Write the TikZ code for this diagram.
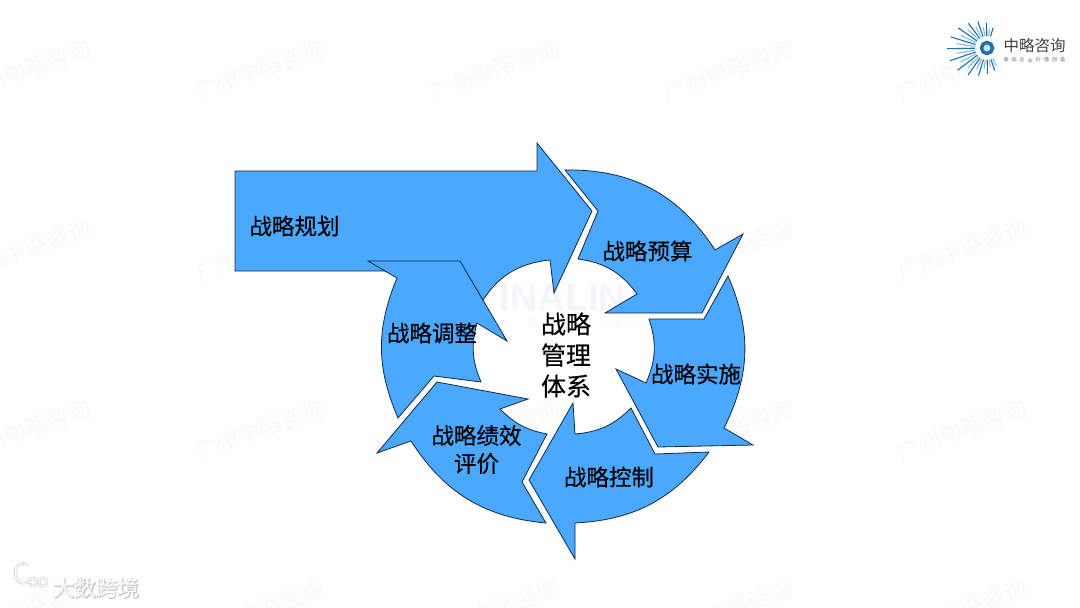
\documentclass[tikz,border=0pt]{standalone}
\usepackage{fontspec}
\newfontfamily\cjk[FakeBold=0.35]{Noto Sans CJK SC}
\newfontfamily\plaincjk{Noto Sans CJK SC}
\newfontfamily\halofont[FakeBold=4]{Noto Sans CJK SC}
\newfontfamily\latinfont{Liberation Sans}
\definecolor{arrowblue}{HTML}{4AA8FF}
\definecolor{arrowline}{HTML}{0E2A47}
\definecolor{markgrey}{HTML}{F8F9FB}
\definecolor{brandgrey}{HTML}{F3F5F8}
\definecolor{raydark}{HTML}{1F6FB0}
\definecolor{raylight}{HTML}{7CC0E8}
\begin{document}
\begin{tikzpicture}[x=1pt,y=-1pt,
    wedge/.style={draw=arrowline,fill=arrowblue,line width=0.8pt,miter limit=20},
    lbl/.style={font=\cjk\fontsize{22.5}{31}\selectfont,inner sep=0pt,align=center},
    wmark/.style={font=\plaincjk\fontsize{22.5}{24}\selectfont,text=markgrey,rotate=20,inner sep=0pt},
    ray/.style={line width=1.1pt},
    badge/.style={draw=black!30,double=white,double distance=1.4pt,line width=0.4pt}]
  \useasboundingbox (0,0) rectangle (1080,608);
  % watermarks
  \begin{scope}
    \clip (0,0) rectangle (1080,608);
    \foreach \col in {26,260,494,728,962}
      \foreach \row in {70,250,430,610}
        \node[wmark] (m\col-\row) at (\col,\row) {广州中略咨询};
  \end{scope}
  \node[font=\latinfont\bfseries\fontsize{38}{38}\selectfont,text=brandgrey,inner sep=0pt] (brand) at (563,297) {INALIN};
  \node[font=\plaincjk\fontsize{10}{10}\selectfont,text=markgrey,inner sep=0pt] (brandl) at (533,323) {驱};
  \node[font=\plaincjk\fontsize{10}{10}\selectfont,text=markgrey,inner sep=0pt] (brandr) at (618,323) {价\,值\,创};

  % plan arrow, lies under the others
  \draw[wedge] (235,171) -- (537,171) -- (537,143) -- (592,211) -- (554,293) -- (550,260)
    to[bend right=27] (480,305) -- (440,271) -- (235,271) -- cycle;
  % budget
  \draw[wedge] (565,170) to[bend left=29] (715,250) -- (743,234) -- (702,313) -- (605,313)
    -- (637,294) to[bend right=23] (578,259) -- (598,211) -- cycle;
  % implementation
  \draw[wedge] (728,276) to[bend left=25] (724,428) -- (753,445) -- (658,447) -- (616,369)
    -- (646,383) to[bend right=21] (649,319) -- (704,319) -- cycle;
  % control
  \draw[wedge] (709,452) to[bend left=25] (575,523) -- (575,559) -- (529,480) -- (573,403)
    -- (575,434) to[bend right=20] (631,408) -- (655,454) -- cycle;
  % evaluation
  \draw[wedge] (546,523) to[bend left=26] (411,441) -- (377,453) -- (437,382) -- (528,399)
    -- (500,409) to[bend right=17] (547,434) -- (522,482) -- cycle;
  % adjustment
  \draw[wedge] (398,418) to[bend left=23] (397,278) -- (368,261) -- (460,261) -- (507,341)
    -- (477,323) to[bend right=19] (481,382) -- (434,376) -- cycle;

  \node[lbl] (plan) at (294.5,226) {战略规划};
  \node[lbl] (budget) at (647.5,251) {战略预算};
  \node[lbl] (impl) at (696,374) {战略实施};
  \node[lbl] (ctrl) at (609,477) {战略控制};
  \node[lbl,font=\cjk\fontsize{22.5}{28}\selectfont] (eval) at (476.5,449.5) {战略绩效\\评价};
  \node[lbl] (adj) at (432,333) {战略调整};
  \node[lbl,font=\cjk\fontsize{25}{31}\selectfont] (hub) at (566,355) {战略\\管理\\体系};

  % logo
  \coordinate (logo) at (987,48);
  \foreach \a/\r/\c in {62/20/raylight,71/24/raydark,80/19/raylight,89/26/raydark,98/21/raylight,107/29/raydark,116/24/raylight,
      125/33/raydark,134/27/raylight,143/37/raydark,152/30/raylight,161/39/raydark,170/31/raylight,179/40/raydark,188/31/raylight,
      197/38/raydark,206/29/raylight,215/35/raydark,224/27/raylight,233/31/raydark,242/24/raylight,251/28/raydark,260/21/raylight,269/25/raydark,278/19/raylight,287/21/raydark}
    \draw[ray,\c] ([shift={(\a:12)}]logo) -- ([shift={(\a:\r)}]logo);
  \draw[raydark,line width=3.5pt,fill=raylight!40] (logo) circle (5.5);
  \node[font=\plaincjk\fontsize{15.5}{16}\selectfont,text=black!75,inner sep=0pt] (zlname) at (1034.5,46) {中略咨询};
  \foreach \i/\c in {0/驱,1/动,2/企,3/业,4/价,5/值,6/创,7/造}
    \node[font=\plaincjk\fontsize{5}{5}\selectfont,text=black!60,inner sep=0pt] (zl\i) at (1006+\i*8.1,60) {\c};

  % bottom left badge
  \draw[badge] (13,580) -- (13,597);
  \draw[badge] (29,581) arc (50:310:8.5 and 10);
  \draw[badge] (33,582) circle (4.2);
  \draw[badge] (43,582) circle (4.2);
  \node[font=\halofont\fontsize{21.5}{22}\selectfont,text=black!22,inner sep=0pt] (dsl) at (96.5,588.5) {大数跨境};
  \node[font=\plaincjk\fontsize{21.5}{22}\selectfont,text=white,inner sep=0pt] (ds) at (96,588) {大数跨境};
\end{tikzpicture}
\end{document}
